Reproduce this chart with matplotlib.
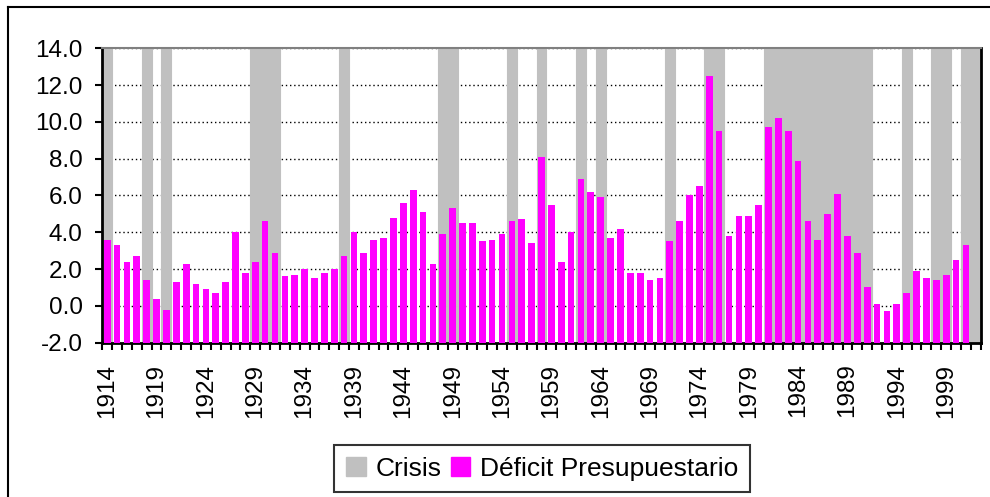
import numpy as np
import matplotlib.pyplot as plt
from matplotlib.patches import Patch
from matplotlib.lines import Line2D

plt.rcParams['font.family'] = ['Liberation Sans', 'DejaVu Sans']

years = list(range(1914, 2003))

deficit = [3.6, 3.3, 2.4, 2.7, 1.4, 0.4, -0.2, 1.3, 2.3, 1.2,
           0.9, 0.7, 1.3, 4.0, 1.8, 2.4, 4.6, 2.9, 1.6, 1.7,
           2.0, 1.5, 1.8, 2.0, 2.7, 4.0, 2.9, 3.6, 3.7, 4.8,
           5.6, 6.3, 5.1, 2.3, 3.9, 5.3, 4.5, 4.5, 3.5, 3.6,
           3.9, 4.6, 4.7, 3.4, 8.1, 5.5, 2.4, 4.0, 6.9, 6.2,
           5.9, 3.7, 4.2, 1.8, 1.8, 1.4, 1.5, 3.5, 4.6, 6.0,
           6.5, 12.5, 9.5, 3.8, 4.9, 4.9, 5.5, 9.7, 10.2, 9.5,
           7.9, 4.6, 3.6, 5.0, 6.1, 3.8, 2.9, 1.0, 0.1, -0.3,
           0.1, 0.7, 1.9, 1.5, 1.4, 1.7, 2.5, 3.3, np.nan]

crisis_years = [1914, 1918, 1920, 1929, 1930, 1931, 1938, 1948, 1949,
                1955, 1958, 1962, 1964, 1971, 1975, 1976,
                1981, 1982, 1983, 1984, 1985, 1986, 1987, 1988, 1989, 1990, 1991,
                1995, 1998, 1999, 2001, 2002]

base = -2.0
top = 14.0
gray = '#C0C0C0'
magenta = '#FF00FF'
fs = 17.5

x = np.arange(len(years))
crisis_x = [years.index(y) for y in crisis_years]
dvals = np.array(deficit, dtype=float)

fig = plt.figure(figsize=(9.9, 4.97), dpi=100)
ax = fig.add_axes([0.1033, 0.3105, 0.8873, 0.5923])

# crisis shading as full-height bars
ax.bar(crisis_x, [top - base] * len(crisis_x), bottom=base, width=1.0,
       color=gray, edgecolor=gray, linewidth=0.8, zorder=2)

# deficit bars grow from the -2 axis line
ax.bar(x, dvals - base, bottom=base, width=0.68, color=magenta, zorder=3)

ax.set_xlim(-0.5, len(years) - 0.5)
ax.set_ylim(base, top)

ax.set_yticks(np.arange(-2, 15, 2))
ax.set_yticklabels(['%.1f' % v for v in np.arange(-2, 15, 2)], fontsize=fs)
ax.yaxis.grid(True, color='black', linestyle=(0, (1, 2)), linewidth=1.0, zorder=1)
ax.set_axisbelow(True)

label_idx = list(range(0, len(years), 5))
ax.set_xticks(label_idx)
ax.set_xticklabels([str(years[i]) for i in label_idx], rotation=90, fontsize=fs)
ax.set_xticks(np.arange(-0.5, len(years), 1.0), minor=True)
ax.tick_params(axis='x', which='major', length=0, pad=15)
ax.tick_params(axis='x', which='minor', length=5, width=1.5, direction='out', color='black')
ax.tick_params(axis='y', length=5, width=1.5, direction='out', pad=9)

for side in ['left', 'bottom', 'right']:
    ax.spines[side].set_color('black')
    ax.spines[side].set_linewidth(2)
ax.spines['top'].set_color('#808080')
ax.spines['top'].set_linewidth(1.5)

handles = [Patch(facecolor=gray, edgecolor=gray, label='Crisis'),
           Patch(facecolor=magenta, edgecolor=magenta, label='Déficit Presupuestario')]
leg = fig.legend(handles=handles, loc='center', bbox_to_anchor=(0.5475, 0.0573),
                 ncol=2, fontsize=19, frameon=True, fancybox=False,
                 handlelength=0.75, handleheight=0.75, handletextpad=0.35,
                 columnspacing=0.35, borderpad=0.45, borderaxespad=0)
leg.get_frame().set_edgecolor('black')
leg.get_frame().set_linewidth(1.5)

# outer chart frame (right and bottom edges fall outside the image)
fig.add_artist(Line2D([8 / 990, 8 / 990], [0, 1 - 7 / 497], color='black', linewidth=1.5))
fig.add_artist(Line2D([8 / 990, 1], [1 - 7 / 497, 1 - 7 / 497], color='black', linewidth=1.5))

fig.savefig('out.png', dpi=100)
